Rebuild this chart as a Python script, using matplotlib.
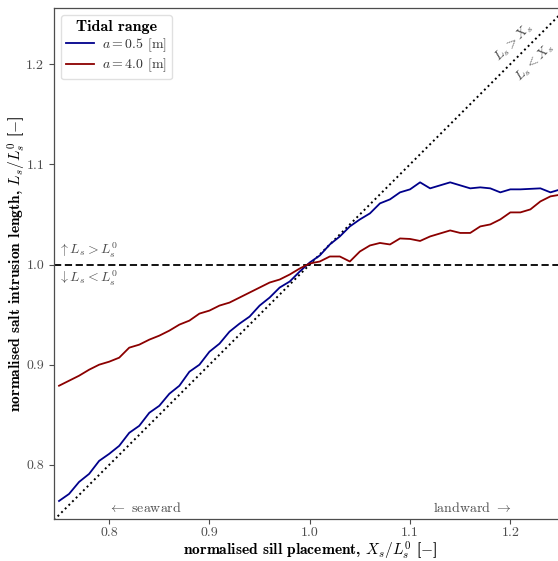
import numpy as np
import matplotlib
matplotlib.use("Agg")
import matplotlib.pyplot as plt

plt.rcParams['font.family'] = 'cmr10'
plt.rcParams['mathtext.fontset'] = 'cm'
plt.rcParams['axes.formatter.use_mathtext'] = True

x_sill = [0.75, 0.76, 0.77, 0.78, 0.79, 0.80, 0.81, 0.82, 0.83, 0.84,
          0.85, 0.86, 0.87, 0.88, 0.89, 0.90, 0.91, 0.92, 0.93, 0.94,
          0.95, 0.96, 0.97, 0.98, 0.99, 1.00, 1.01, 1.02, 1.03, 1.04,
          1.05, 1.06, 1.07, 1.08, 1.09, 1.10, 1.11, 1.12, 1.13, 1.14,
          1.15, 1.16, 1.17, 1.18, 1.19, 1.20, 1.21, 1.22, 1.23, 1.24, 1.25]

L_a05 = [0.764, 0.771, 0.783, 0.791, 0.804, 0.811, 0.819, 0.832, 0.839, 0.852,
         0.859, 0.871, 0.879, 0.893, 0.900, 0.913, 0.921, 0.933, 0.941, 0.948,
         0.959, 0.967, 0.977, 0.983, 0.993, 1.002, 1.009, 1.020, 1.028, 1.038,
         1.045, 1.051, 1.061, 1.065, 1.072, 1.075, 1.082, 1.076, 1.079, 1.082,
         1.079, 1.076, 1.077, 1.076, 1.072, 1.075, 1.075, 1.0755, 1.076, 1.072, 1.075]

L_a40 = [0.879, 0.884, 0.889, 0.895, 0.900, 0.903, 0.907, 0.917, 0.920, 0.925,
         0.929, 0.934, 0.940, 0.944, 0.951, 0.954, 0.959, 0.962, 0.967, 0.972,
         0.977, 0.982, 0.985, 0.990, 0.996, 1.001, 1.003, 1.008, 1.008, 1.003,
         1.013, 1.019, 1.0215, 1.020, 1.026, 1.0255, 1.0235, 1.028, 1.031, 1.034,
         1.0315, 1.0315, 1.038, 1.040, 1.045, 1.052, 1.052, 1.055, 1.063, 1.068, 1.0697]

series_labels = [r'$a = 0.5$ [m]', r'$a = 4.0$ [m]']
xticks = [0.8, 0.9, 1.0, 1.1, 1.2]
yticks = [0.8, 0.9, 1.0, 1.1, 1.2]

fig = plt.figure(figsize=(5.58, 5.61), dpi=100)
ax = fig.add_axes([54/558, 42/561, 511.5/558, 511/561])

lims = (0.745, 1.255)
ax.plot(lims, lims, ls=':', color='black', lw=1.4, zorder=1)
ax.axhline(1.0, ls='--', color='black', lw=1.3, dashes=(4, 2), zorder=1)
ax.plot(x_sill, L_a05, color='#00008B', lw=1.3, label=series_labels[0], zorder=3)
ax.plot(x_sill, L_a40, color='#8B0000', lw=1.3, label=series_labels[1], zorder=3)

ax.set_xlim(lims)
ax.set_ylim(0.746, 1.256)
ax.set_xticks(xticks)
ax.set_yticks(yticks)
ax.set_xticklabels([f'{v:.1f}' for v in xticks])
ax.set_yticklabels([f'{v:.1f}' for v in yticks])
ax.tick_params(direction='out', length=3.5, width=0.8, labelsize=10, colors='0.3',
               labelcolor='0.3')
ax.tick_params(axis='x', pad=2.5)
for s in ax.spines.values():
    s.set_color('0.3')
    s.set_linewidth(0.9)

ax.set_xlabel(r'normalised sill placement, $X_s/L_s^0$ [$-$]', fontsize=11.2,
              family='cmb10', labelpad=0.5)
ax.set_ylabel(r'normalised salt intrusion length, $L_s/L_s^0$ [$-$]', fontsize=11.2,
              family='cmb10', labelpad=-1)

tc = '0.3'
ax.text(1.203, 1.222, r'$L_s > X_s$', rotation=45, ha='center', va='center',
        color=tc, fontsize=10, rotation_mode='anchor')
ax.text(1.224, 1.202, r'$L_s < X_s$', rotation=45, ha='center', va='center',
        color=tc, fontsize=10, rotation_mode='anchor')
ax.text(0.749, 1.004, r'$\uparrow L_s > L_s^0$', ha='left', va='bottom', color=tc, fontsize=10)
ax.text(0.749, 0.996, r'$\downarrow L_s < L_s^0$', ha='left', va='top', color=tc, fontsize=10)
ax.text(0.799, 0.757, r'$\leftarrow$ seaward', ha='left', va='center', color=tc, fontsize=10)
ax.text(1.201, 0.757, r'landward $\rightarrow$', ha='right', va='center', color=tc, fontsize=10)

leg = ax.legend(loc='upper left', title='Tidal range', fontsize=10,
                title_fontproperties={'family': 'cmb10', 'size': 11.5},
                frameon=True, fancybox=True, borderaxespad=0.5,
                labelspacing=0.2, borderpad=0.35, handletextpad=0.6)
leg.get_frame().set_edgecolor('0.85')
for t in leg.get_texts():
    t.set_color('0.2')

fig.savefig('out.png', dpi=100)
